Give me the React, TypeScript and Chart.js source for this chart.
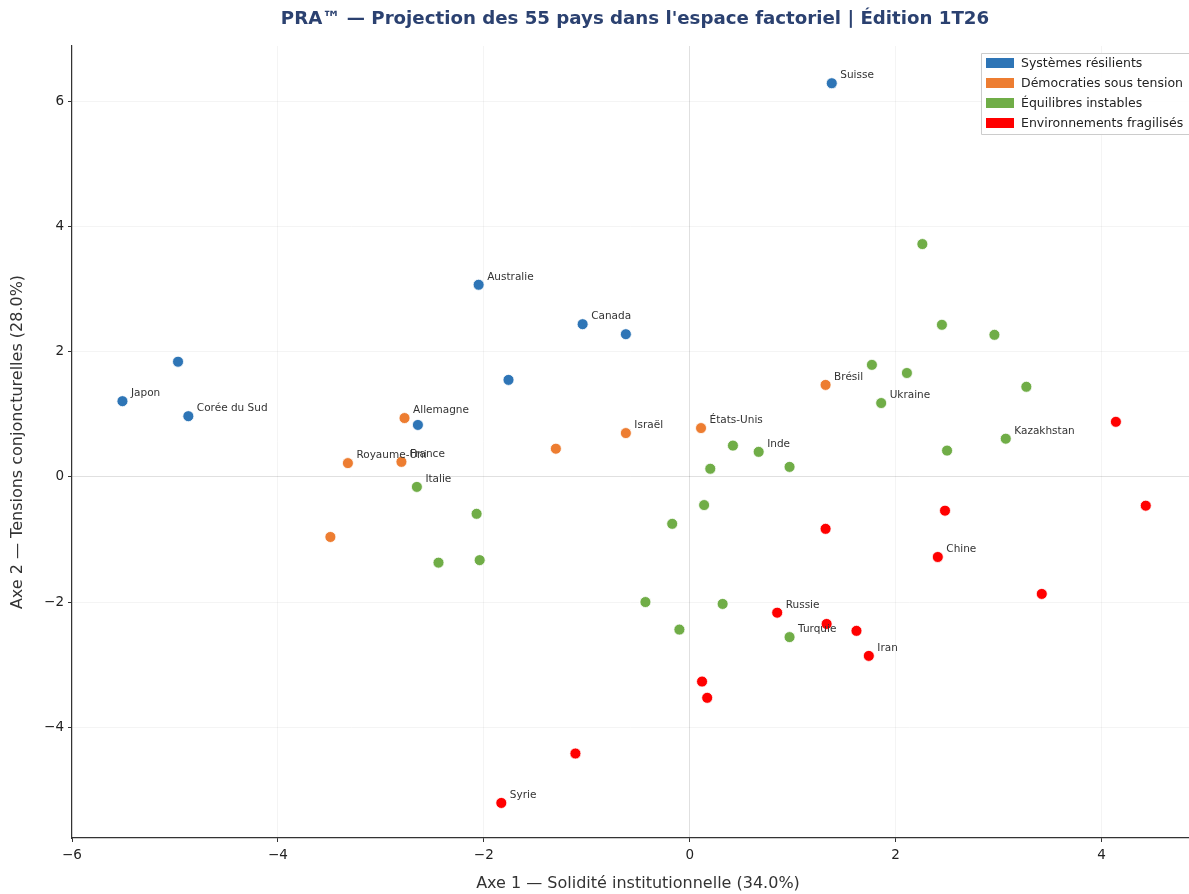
import React, { useEffect, useRef } from "react";
import { Chart, registerables } from "chart.js";

Chart.register(...registerables);

const TITLE = "PRA™ — Projection des 55 pays dans l'espace factoriel | Édition 1T26";
const X_TITLE = "Axe 1 — Solidité institutionnelle (34.0%)";
const Y_TITLE = "Axe 2 — Tensions conjoncturelles (28.0%)";

const CLUSTERS = [
  "Systèmes résilients",
  "Démocraties sous tension",
  "Équilibres instables",
  "Environnements fragilisés",
];
const COLORS = ["#2E75B6", "#ED7D31", "#70AD47", "#FF0000"];

const X_TICKS = [-6, -4, -2, 0, 2, 4];
const Y_TICKS = [-4, -2, 0, 2, 4, 6];

// Systèmes résilients
const resilientNames = ["Suisse", "Australie", "Canada", "", "", "Japon", "Corée du Sud", "", ""];
const resilientX = [1.38, -2.05, -1.04, -0.62, -4.97, -5.51, -4.87, -1.76, -2.64];
const resilientY = [6.29, 3.07, 2.44, 2.28, 1.84, 1.21, 0.97, 1.55, 0.83];

// Démocraties sous tension
const tensionNames = ["Allemagne", "Royaume-Uni", "France", "", "Israël", "États-Unis", "Brésil", ""];
const tensionX = [-2.77, -3.32, -2.8, -1.3, -0.62, 0.11, 1.32, -3.49];
const tensionY = [0.94, 0.22, 0.24, 0.45, 0.7, 0.78, 1.47, -0.96];

// Équilibres instables
const instableNames = [
  "Italie", "", "", "", "", "Inde", "", "", "", "", "", "", "", "Turquie",
  "", "", "", "", "", "Ukraine", "", "Kazakhstan", "",
];
const instableX = [
  -2.65, -2.07, -2.04, -2.44, 0.42, 0.67, 0.2, 0.97, -0.17, 0.14, -0.43, -0.1, 0.32, 0.97,
  2.26, 2.45, 2.96, 1.77, 2.11, 1.86, 3.27, 3.07, 2.5,
];
const instableY = [
  -0.16, -0.59, -1.33, -1.37, 0.5, 0.4, 0.13, 0.16, -0.75, -0.45, -2.0, -2.44, -2.03, -2.56,
  3.72, 2.43, 2.27, 1.79, 1.66, 1.18, 1.44, 0.61, 0.42,
];

// Environnements fragilisés
const fragileNames = ["", "", "", "", "Chine", "", "Russie", "", "", "Iran", "", "", "", "Syrie"];
const fragileX = [4.14, 4.43, 2.48, 1.32, 2.41, 3.42, 0.85, 1.33, 1.62, 1.74, 0.12, 0.17, -1.11, -1.83];
const fragileY = [0.88, -0.46, -0.54, -0.83, -1.28, -1.87, -2.17, -2.35, -2.46, -2.86, -3.27, -3.53, -4.42, -5.21];

const GROUPS = [
  { names: resilientNames, xs: resilientX, ys: resilientY },
  { names: tensionNames, xs: tensionX, ys: tensionY },
  { names: instableNames, xs: instableX, ys: instableY },
  { names: fragileNames, xs: fragileX, ys: fragileY },
];

const FONT = "'DejaVu Sans', sans-serif";

const fmt = (v: number) => (v < 0 ? "\u2212" + Math.abs(v) : String(v));

const labelsPlugin = {
  id: "pointLabels",
  afterDatasetsDraw(chart: any) {
    const ctx = chart.ctx;
    ctx.save();
    ctx.font = `10.5px ${FONT}`;
    ctx.fillStyle = "#333333";
    ctx.textAlign = "left";
    ctx.textBaseline = "alphabetic";
    GROUPS.forEach((g, di) => {
      const meta = chart.getDatasetMeta(di);
      g.names.forEach((name, i) => {
        if (!name) return;
        const el = meta.data[i];
        if (!el) return;
        ctx.fillText(name, el.x + 8.5, el.y - 5);
      });
    });
    ctx.restore();
  },
};

const decorPlugin = {
  id: "decor",
  afterDraw(chart: any) {
    const ctx = chart.ctx;
    ctx.save();
    // title
    ctx.font = `bold 18.2px ${FONT}`;
    ctx.fillStyle = "#2B4170";
    ctx.textAlign = "center";
    ctx.textBaseline = "middle";
    ctx.fillText(TITLE, 635, 19);

    // x axis title
    ctx.font = `16px ${FONT}`;
    ctx.fillStyle = "#333333";
    ctx.fillText(X_TITLE, 638, 884);

    // legend
    const bx = 981;
    const by = 53;
    const bw = 220;
    const bh = 81;
    ctx.fillStyle = "rgba(255,255,255,0.85)";
    ctx.strokeStyle = "#cccccc";
    ctx.lineWidth = 1;
    ctx.beginPath();
    ctx.rect(bx + 0.5, by + 0.5, bw, bh);
    ctx.fill();
    ctx.stroke();
    ctx.font = `12.5px ${FONT}`;
    ctx.textAlign = "left";
    ctx.textBaseline = "middle";
    CLUSTERS.forEach((c, i) => {
      const cy = 63 + i * 20;
      ctx.fillStyle = COLORS[i];
      ctx.fillRect(986, cy - 5, 28, 10);
      ctx.fillStyle = "#222222";
      ctx.fillText(c, 1021, cy + 0.5);
    });
    ctx.restore();
  },
};

export default function App() {
  const ref = useRef<HTMLCanvasElement | null>(null);

  useEffect(() => {
    if (!ref.current) return;
    const gridColor = (c: any) =>
      c.tick && c.tick.value === 0 ? "rgba(0,0,0,0.12)" : "rgba(0,0,0,0.045)";
    const chart = new Chart(ref.current, {
      type: "scatter",
      data: {
        datasets: GROUPS.map((g, i) => ({
          label: CLUSTERS[i],
          data: g.xs.map((x, k) => ({ x, y: g.ys[k] })),
          backgroundColor: COLORS[i],
          borderColor: "#ffffff",
          borderWidth: 0.8,
          pointRadius: 5.5,
          pointHoverRadius: 5.5,
          order: 4 - i,
        })),
      },
      options: {
        animation: false,
        responsive: true,
        maintainAspectRatio: false,
        layout: { autoPadding: false, padding: { top: 46, left: 0, right: 0, bottom: 0 } },
        plugins: {
          legend: { display: false },
          title: { display: false },
          tooltip: { enabled: false },
        },
        scales: {
          x: {
            type: "linear",
            min: -6,
            max: 4.85,
            afterBuildTicks: (s: any) => {
              s.ticks = X_TICKS.map((v) => ({ value: v }));
            },
            afterFit: (s: any) => {
              s.height = 56;
              s.paddingLeft = 0;
              s.paddingRight = 0;
            },
            ticks: {
              font: { family: FONT, size: 13.5 },
              color: "#222222",
              padding: 5,
              maxRotation: 0,
              callback: (v: any) => fmt(Number(v)),
            },
            grid: {
              color: gridColor,
              tickColor: "#333333",
              tickLength: 4,
              lineWidth: 1,
            },
            border: { color: "#333333", width: 1.2 },
            title: { display: false },
          },
          y: {
            type: "linear",
            min: -5.77,
            max: 6.885,
            afterBuildTicks: (s: any) => {
              s.ticks = Y_TICKS.map((v) => ({ value: v }));
            },
            afterFit: (s: any) => {
              s.width = 72;
              s.paddingTop = 0;
              s.paddingBottom = 0;
            },
            ticks: {
              font: { family: FONT, size: 13.5 },
              color: "#222222",
              padding: 4,
              callback: (v: any) => fmt(Number(v)),
            },
            grid: {
              color: gridColor,
              tickColor: "#333333",
              tickLength: 4,
              lineWidth: 1,
            },
            border: { color: "#333333", width: 1.2 },
            title: {
              display: true,
              text: Y_TITLE,
              font: { family: FONT, size: 16 },
              color: "#333333",
              padding: { top: 8, bottom: 0 },
            },
          },
        },
      },
      plugins: [labelsPlugin, decorPlugin],
    } as any);
    return () => chart.destroy();
  }, []);

  return (
    <div style={{ position: "absolute", left: 0, top: 0, width: 1189, height: 894, background: "#ffffff" }}>
      <canvas ref={ref} />
    </div>
  );
}
